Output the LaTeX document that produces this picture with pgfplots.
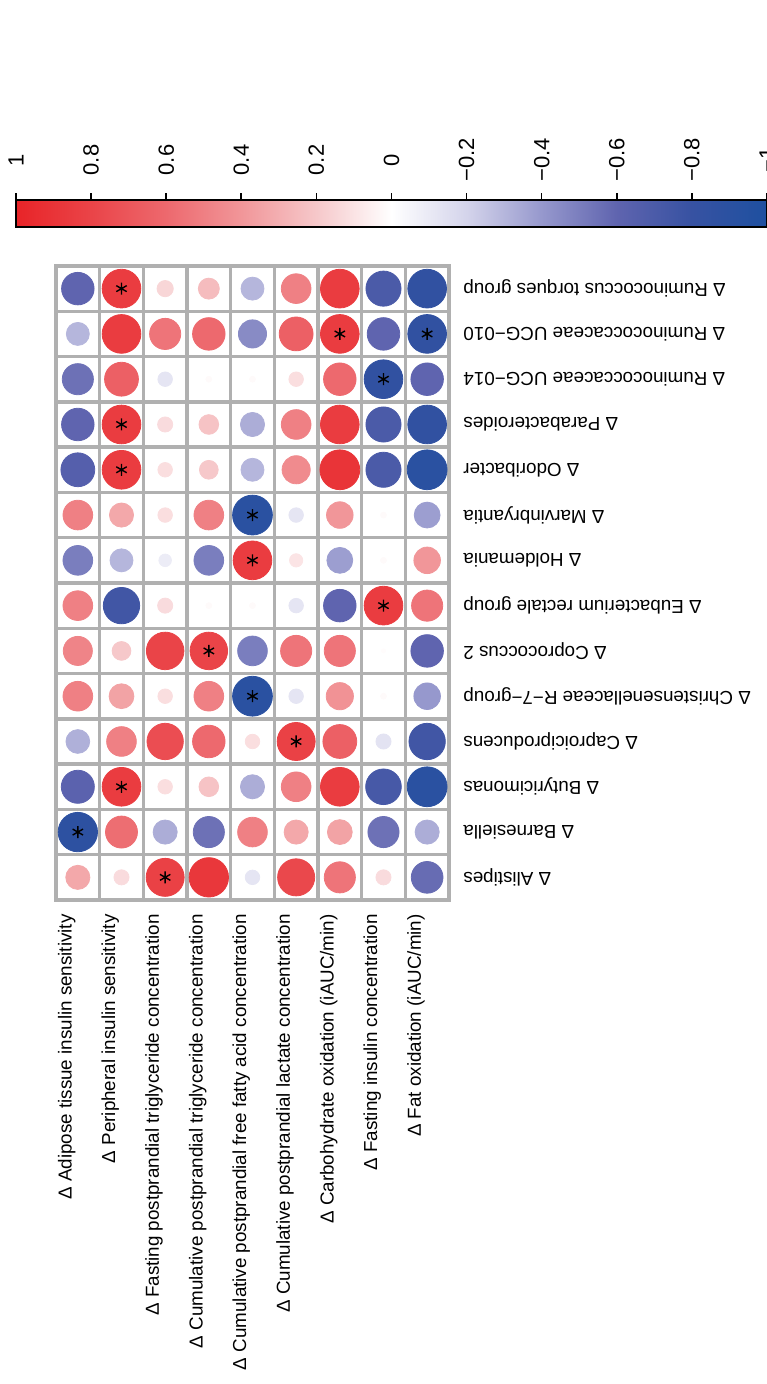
\documentclass[border=0pt]{standalone}
\usepackage{fontspec}
\setmainfont{Liberation Sans}
\usepackage{pgfplots}
\pgfplotsset{compat=1.18}

\begin{document}
\begin{tikzpicture}
\pgfplotsset{
  colormap={corr}{rgb255=(30,80,160) rgb255=(55,82,162) rgb255=(95,100,175)
    rgb255=(150,152,205) rgb255=(212,212,235) rgb255=(255,255,255)
    rgb255=(246,200,202) rgb255=(241,150,153) rgb255=(237,105,110)
    rgb255=(234,68,72) rgb255=(232,36,40)},
}
\begin{axis}[
  at={(28pt,242pt)}, anchor=south west,
  scale only axis, width=196.5pt, height=317pt,
  xmin=-0.5, xmax=8.5, ymin=-0.5, ymax=13.5,
  xtick={0,...,8}, ytick={0,...,13},
  minor xtick={-0.5,0.5,...,8.5}, minor ytick={-0.5,0.5,...,13.5},
  grid=minor, minor grid style={draw=gray!62, line width=1.7pt},
  axis line style={draw=gray!62, line width=2pt},
  major tick length=0pt, minor tick length=0pt,
  xticklabels={Δ Adipose tissue insulin sensitivity, Δ Peripheral insulin sensitivity,
    Δ Fasting postprandial triglyceride concentration,
    Δ Cumulative postprandial triglyceride concentration,
    Δ Cumulative postprandial free fatty acid concentration,
    Δ Cumulative postprandial lactate concentration,
    Δ Carbohydrate oxidation (iAUC/min), Δ Fasting insulin concentration,
    Δ Fat oxidation (iAUC/min)},
  yticklabels={Δ Alistipes, Δ Barnesiella, Δ Butyricimonas, Δ Caproiciproducens,
    Δ Christensenellaceae R−7−group, Δ Coprococcus 2, Δ Eubacterium rectale group,
    Δ Holdemania, Δ Marvinbryantia, Δ Odoribacter, Δ Parabacteroides,
    Δ Ruminococcaceae UCG−014, Δ Ruminococcaceae UCG−010, Δ Ruminococcus torques group},
  yticklabel pos=right,
  xticklabel style={rotate=90, anchor=south east, inner xsep=7pt, inner ysep=1pt,
    font=\fontsize{9.4}{11}\selectfont},
  yticklabel style={rotate=180, anchor=east, inner xsep=7pt,
    font=\fontsize{9.4}{11}\selectfont},
  point meta min=-1, point meta max=1,
  colormap name=corr,
  colorbar horizontal,
  colorbar style={
    at={(8pt,587pt)}, anchor=south west,
    scale only axis, width=375.5pt, height=13.5pt,
    x dir=reverse,
    xtick={-1,-0.8,-0.6,-0.4,-0.2,0,0.2,0.4,0.6,0.8,1},
    xticklabels={−1,−0.8,−0.6,−0.4,−0.2,0,0.2,0.4,0.6,0.8,1},
    xtick pos=right, xticklabel pos=right,
    tick align=outside, major tick length=3.5pt,
    xtick style={black, line width=0.8pt},
    axis line style={black, line width=0.8pt},
    xticklabel shift=16.5pt,
    xticklabel style={rotate=90, anchor=center,
      font=\fontsize{11}{13}\selectfont},
    ytick=\empty,
  },
]
% circle area ~ |r|, colour from the colormap
\addplot[scatter, only marks, mark=*, point meta=explicit,
  scatter/use mapped color={draw=mapped color, fill=mapped color},
  visualization depends on={10.5*sqrt(abs(\thisrow{r}))\as\rad},
  scatter/@pre marker code/.append style={/tikz/mark size=\rad}]
  table[x=x, y=y, meta=r] {
x y r
0 0 0.33
1 0 0.13
2 0 0.82
3 0 0.88
4 0 -0.12
5 0 0.78
6 0 0.55
7 0 0.13
8 0 -0.57
0 1 -0.88
1 1 0.58
2 1 -0.33
3 1 -0.55
4 1 0.50
5 1 0.33
6 1 0.35
7 1 -0.55
8 1 -0.33
0 2 -0.62
1 2 0.85
2 2 0.12
3 2 0.22
4 2 -0.33
5 2 0.50
6 2 0.85
7 2 -0.72
8 2 -0.90
0 3 -0.32
1 3 0.50
2 3 0.75
3 3 0.60
4 3 0.12
5 3 0.82
6 3 0.65
7 3 -0.13
8 3 -0.75
0 4 0.50
1 4 0.35
2 4 0.12
3 4 0.50
4 4 -0.90
5 4 -0.12
6 4 0.42
7 4 0.02
8 4 -0.40
0 5 0.48
1 5 0.20
2 5 0.80
3 5 0.80
4 5 -0.50
5 5 0.55
6 5 0.55
7 5 0.01
8 5 -0.60
0 6 0.50
1 6 -0.75
2 6 0.13
3 6 0.02
4 6 0.02
5 6 -0.12
6 6 -0.60
7 6 0.85
8 6 0.55
0 7 -0.50
1 7 -0.30
2 7 -0.09
3 7 -0.50
4 7 0.85
5 7 0.10
6 7 -0.38
7 7 0.02
8 7 0.40
0 8 0.50
1 8 0.33
2 8 0.12
3 8 0.50
4 8 -0.90
5 8 -0.12
6 8 0.40
7 8 0.02
8 8 -0.38
0 9 -0.65
1 9 0.85
2 9 0.12
3 9 0.20
4 9 -0.30
5 9 0.45
6 9 0.90
7 9 -0.70
8 9 -0.90
0 10 -0.60
1 10 0.85
2 10 0.13
3 10 0.22
4 10 -0.33
5 10 0.50
6 10 0.85
7 10 -0.70
8 10 -0.85
0 11 -0.55
1 11 0.65
2 11 -0.12
3 11 0.02
4 11 0.02
5 11 0.12
6 11 0.60
7 11 -0.85
8 11 -0.60
0 12 -0.30
1 12 0.85
2 12 0.55
3 12 0.60
4 12 -0.45
5 12 0.65
6 12 0.85
7 12 -0.60
8 12 -0.85
0 13 -0.60
1 13 0.85
2 13 0.15
3 13 0.25
4 13 -0.30
5 13 0.50
6 13 0.85
7 13 -0.70
8 13 -0.85
};
% significance stars
\addplot[only marks, mark=asterisk, mark size=3pt, black, mark options={line width=0.7pt}]
  coordinates {(1,13) (6,12) (8,12) (7,11) (1,10) (1,9) (4,8) (4,7) (7,6) (3,5)
    (4,4) (5,3) (1,2) (0,1) (2,0)};
\end{axis}
\pgfresetboundingbox
\useasboundingbox (0,0) rectangle (383pt,692pt);
\end{tikzpicture}
\end{document}
